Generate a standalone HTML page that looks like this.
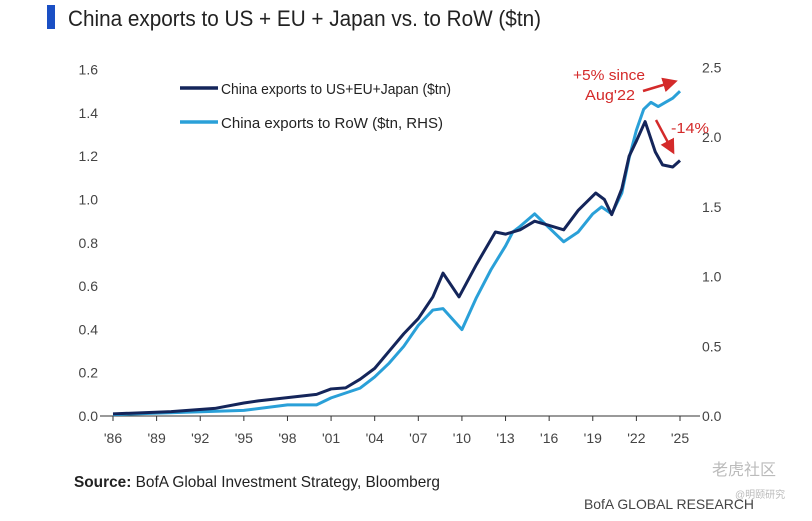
<!DOCTYPE html>
<html><head><meta charset="utf-8"><style>
body{margin:0;width:812px;height:516px;background:#fff;overflow:hidden;font-family:"Liberation Sans",sans-serif}
svg text{font-family:"Liberation Sans","Noto Sans CJK SC",sans-serif}
</style></head><body>
<svg width="812" height="516">
<rect x="47" y="5" width="8" height="24" fill="#1a4fc4"/>
<text x="68" y="26" font-size="22" fill="#222" textLength="473" lengthAdjust="spacingAndGlyphs">China exports to US + EU + Japan vs. to RoW ($tn)</text>
<g id="axes"></g>
<g id="series"></g>
<line x1="180" y1="88" x2="218" y2="88" stroke="#14255a" stroke-width="3.5"/>
<text x="221" y="94" font-size="15" fill="#222" textLength="230" lengthAdjust="spacingAndGlyphs">China exports to US+EU+Japan ($tn)</text>
<line x1="180" y1="122" x2="218" y2="122" stroke="#2aa0d8" stroke-width="3.5"/>
<text x="221" y="128" font-size="15" fill="#222" textLength="222" lengthAdjust="spacingAndGlyphs">China exports to RoW ($tn, RHS)</text>
<text x="573" y="80" font-size="15" fill="#d42a2a" textLength="72" lengthAdjust="spacingAndGlyphs">+5% since</text>
<text x="585" y="100" font-size="15" fill="#d42a2a" textLength="50" lengthAdjust="spacingAndGlyphs">Aug'22</text>
<text x="671" y="133" font-size="15" fill="#d42a2a" textLength="38" lengthAdjust="spacingAndGlyphs">-14%</text>
<defs><marker id="ah" markerWidth="6" markerHeight="6" refX="4" refY="3" orient="auto"><path d="M0,0L6,3L0,6z" fill="#d42a2a"/></marker></defs>
<line x1="643" y1="91" x2="673" y2="82" stroke="#d42a2a" stroke-width="2.5" marker-end="url(#ah)"/>
<line x1="656" y1="120" x2="672" y2="150" stroke="#d42a2a" stroke-width="2.5" marker-end="url(#ah)"/>
<text x="74" y="487" font-size="16" fill="#222" textLength="366" lengthAdjust="spacingAndGlyphs"><tspan font-weight="bold">Source:</tspan> BofA Global Investment Strategy, Bloomberg</text>
<text x="584" y="509" font-size="14" fill="#444" textLength="170" lengthAdjust="spacingAndGlyphs">BofA GLOBAL RESEARCH</text>
<text x="712" y="475" font-size="16" fill="#bbb">老虎社区</text>
<text x="735" y="498" font-size="10" fill="#bbb">@明颐研究</text>
</svg>
<script>
const years=[1986,1990,1993,1995,1996,1998,2000,2001,2002,2003,2004,2005,2006,2007,2008,2008.7,2009.8,2011,2012.3,2013,2014,2015,2016,2017,2018,2019.2,2019.8,2020.3,2021,2021.5,2022,2022.6,2023.3,2023.8,2024.5,2025];
const usEuJp=[0.01,0.02,0.035,0.06,0.07,0.085,0.1,0.125,0.13,0.17,0.22,0.3,0.38,0.45,0.55,0.66,0.55,0.7,0.85,0.84,0.86,0.9,0.88,0.86,0.95,1.03,1.0,0.93,1.05,1.2,1.27,1.36,1.22,1.16,1.15,1.18];
const rowYears=[1986,1995,1998,2000,2001,2003,2004,2005,2006,2007,2008,2008.7,2010,2011,2012,2013,2013.5,2014,2015,2016,2017,2018,2019,2019.6,2020.3,2021,2021.5,2022,2022.5,2023,2023.5,2024,2024.5,2025];
const row=[0.01,0.04,0.08,0.08,0.13,0.2,0.28,0.38,0.5,0.65,0.76,0.77,0.62,0.85,1.05,1.22,1.32,1.36,1.45,1.35,1.25,1.32,1.45,1.5,1.45,1.6,1.85,2.05,2.2,2.25,2.22,2.25,2.28,2.33];
const xTicks=["'86","'89","'92","'95","'98","'01","'04","'07","'10","'13","'16","'19","'22","'25"];
const leftTicks=[0,0.2,0.4,0.6,0.8,1.0,1.2,1.4,1.6];
const rightTicks=[0,0.5,1.0,1.5,2.0,2.5];
const NS="http://www.w3.org/2000/svg";
const X=y=>113+(y-1986)*(567/39);
const YL=v=>416-v*216.5;
const YR=v=>416-v*139.4;
const ax=document.getElementById('axes'),se=document.getElementById('series');
function mk(t,a,p){const e=document.createElementNS(NS,t);for(const k in a)e.setAttribute(k,a[k]);p.appendChild(e);return e;}
const base=mk('line',{x1:100,y1:416,x2:700,y2:416,stroke:'#333','stroke-width':1},ax);


xTicks.forEach((t,i)=>{const yr=1986+i*3;
 const l=mk('line',{x1:X(yr),y1:416,x2:X(yr),y2:421,stroke:'#333'},ax);
 
 
 const tx=mk('text',{x:X(yr),y:443,'font-size':14,fill:'#444','text-anchor':'middle'},ax);tx.textContent=t;
 
 });
leftTicks.forEach(v=>{const tx=mk('text',{x:98,y:YL(v)+5,'font-size':14,fill:'#444','text-anchor':'end'},ax);tx.textContent=v.toFixed(1);
 
 });
rightTicks.forEach(v=>{const tx=mk('text',{x:702,y:YR(v)+5,'font-size':14,fill:'#444'},ax);tx.textContent=v.toFixed(1);
 
 });
const p2=mk('polyline',{points:rowYears.map((y,i)=>X(y)+','+YR(row[i])).join(' '),fill:'none',stroke:'#2aa0d8','stroke-width':3,'stroke-linejoin':'round'},se);


const p1=mk('polyline',{points:years.map((y,i)=>X(y)+','+YL(usEuJp[i])).join(' '),fill:'none',stroke:'#14255a','stroke-width':3,'stroke-linejoin':'round'},se);


</script>
</body></html>
